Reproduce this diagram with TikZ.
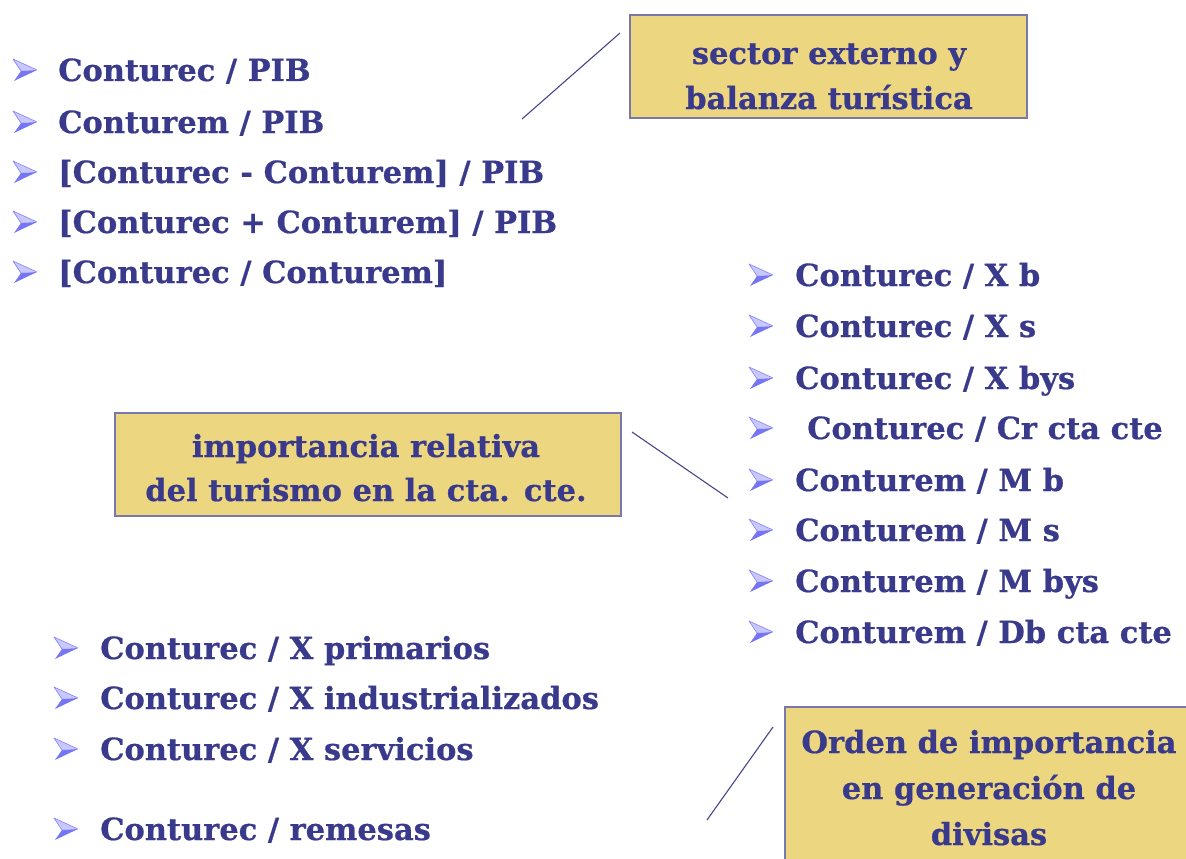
\documentclass[tikz,border=0pt]{standalone}
\usepackage{fontspec}
\setmainfont{DejaVu Serif}[BoldFeatures={FakeBold=0.6}]
\definecolor{txt}{RGB}{58,58,140}
\definecolor{boxfill}{RGB}{236,214,128}
\definecolor{boxedge}{RGB}{120,120,170}
\definecolor{bulA}{RGB}{118,118,245}
\definecolor{bulB}{RGB}{200,200,255}
\definecolor{bulC}{RGB}{140,140,250}
\definecolor{conn}{RGB}{70,70,140}
\begin{document}
\begin{tikzpicture}[x=1pt,y=-1pt,
  item/.style={anchor=base west,inner sep=0pt,text=txt,font=\fontsize{30.5}{36}\selectfont\bfseries},
  boxtxt/.style={anchor=base,inner sep=0pt,text=txt,font=\fontsize{30.5}{36}\selectfont\bfseries},
  labelbox/.style={draw=boxedge,line width=1.3pt,fill=boxfill,inner sep=0pt},
  conline/.style={draw=conn,line width=1.1pt},
  bul/.pic={
    \fill[bulB] (0,-11) -- (24,0) -- (8,1) -- cycle;
    \draw[bulC,line width=0.7pt,line join=round] (8,1) -- (0,-11) -- (24,0);
    \fill[bulA] (1,11) -- (24,0) -- (8,1) -- cycle;
  }]
\useasboundingbox (0,0) rectangle (1186,859);
% left list
\foreach \y in {81,133,183,233,283} \pic at (13,\y-11) {bul};
\node[item] (l1) at (58,81) {Conturec / PIB};
\node[item] (l2) at (58,133) {Conturem / PIB};
\node[item] (l3) at (58,183) {[Conturec - Conturem] / PIB};
\node[item] (l4) at (58,233) {[Conturec + Conturem] / PIB};
\node[item] (l5) at (58,283) {[Conturec / Conturem]};
% box 1
\node[labelbox,minimum width=397pt,minimum height=103pt] (b1) at (828.5,66.5) {};
\node[boxtxt] (b1a) at (829,64) {sector externo y};
\node[boxtxt] (b1b) at (829,109) {balanza turística};
\coordinate (c1a) at (522,119);
\coordinate (c1b) at (620,33);
\draw[conline] (c1a) -- (c1b);
% right list
\foreach \y in {286,337,389,439,491,541,592,643} \pic at (749,\y-11) {bul};
\node[item] (r1) at (795,286) {Conturec / X b};
\node[item] (r2) at (795,337) {Conturec / X s};
\node[item] (r3) at (795,389) {Conturec / X bys};
\node[item] (r4) at (807,439) {Conturec / Cr cta cte};
\node[item] (r5) at (795,491) {Conturem / M b};
\node[item] (r6) at (795,541) {Conturem / M s};
\node[item] (r7) at (795,592) {Conturem / M bys};
\node[item] (r8) at (795,643) {Conturem / Db cta cte};
% box 2
\node[labelbox,minimum width=506pt,minimum height=103pt] (b2) at (368,464.5) {};
\node[boxtxt] (b2a) at (366,457) {importancia relativa};
\node[boxtxt] (b2b) at (366,501) {del turismo en la cta. cte.};
\coordinate (c2a) at (632,432);
\coordinate (c2b) at (728,498);
\draw[conline] (c2a) -- (c2b);
% bottom list
\foreach \y in {659,709,760,840} \pic at (54,\y-11) {bul};
\node[item] (s1) at (100,659) {Conturec / X primarios};
\node[item] (s2) at (100,709) {Conturec / X industrializados};
\node[item] (s3) at (100,760) {Conturec / X servicios};
\node[item] (s4) at (100,840) {Conturec / remesas};
% box 3 (runs off the right and bottom edges)
\fill[boxfill] (785,707) rectangle (1190,865);
\draw[boxedge,line width=1.3pt] (1190,707) -- (785,707) -- (785,865);
\node[boxtxt] (b3a) at (989,753) {Orden de importancia};
\node[boxtxt] (b3b) at (989,799) {en generación de};
\node[boxtxt] (b3c) at (989,845) {divisas};
\coordinate (c3a) at (707,820);
\coordinate (c3b) at (773,727);
\draw[conline] (c3a) -- (c3b);
\end{tikzpicture}
\end{document}
